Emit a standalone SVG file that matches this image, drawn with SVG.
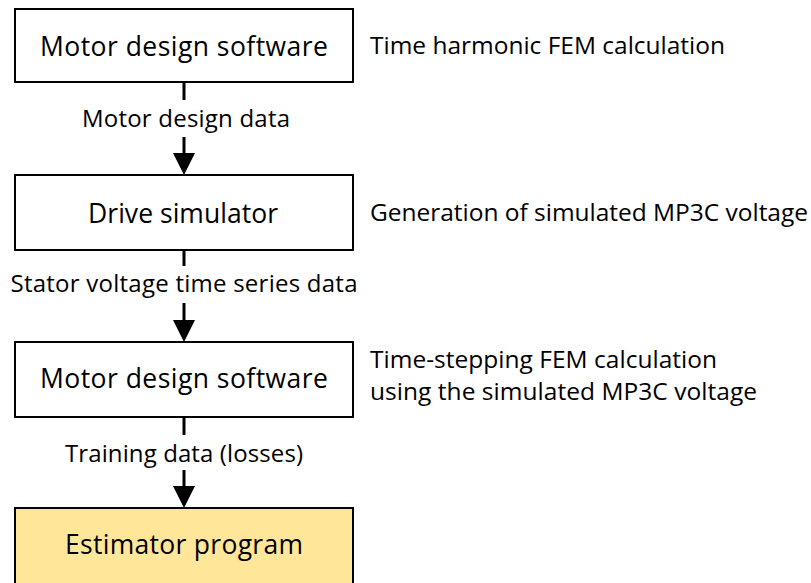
<svg xmlns="http://www.w3.org/2000/svg" width="811" height="583" viewBox="0 0 811 583">
  <defs>
    <style>
      .box { fill: #ffffff; stroke: #000000; stroke-width: 2; }
      .box.est { fill: #ffe699; }
      .t { font-family: "Open Sans", "Liberation Sans", sans-serif; fill: #000000; }
      .nt { font-size: 26.5px; text-anchor: middle; }
      .lb { font-size: 24px; text-anchor: middle; }
      .nt2 { font-size: 24.5px; }
      .edge { stroke: #000000; stroke-width: 3; fill: none; }
      .head { fill: #000000; }
    </style>
  </defs>
  <rect width="811" height="583" fill="#ffffff"/>

  <g id="node-motor-design-1">
    <rect class="box" x="15" y="9" width="338" height="73"/>
    <text class="t nt" x="184" y="56" textLength="288">Motor design software</text>
  </g>
  <g id="node-drive-simulator">
    <rect class="box" x="15" y="175" width="338" height="75"/>
    <text class="t nt" x="183" y="223" textLength="190">Drive simulator</text>
  </g>
  <g id="node-motor-design-2">
    <rect class="box" x="15" y="342" width="338" height="75"/>
    <text class="t nt" x="184" y="388" textLength="288">Motor design software</text>
  </g>
  <g id="node-estimator">
    <rect class="box est" x="15" y="508" width="338" height="80"/>
    <text class="t nt" x="184" y="554" textLength="238">Estimator program</text>
  </g>

  <g id="notes">
    <text class="t nt2" x="370" y="54" textLength="355">Time harmonic FEM calculation</text>
    <text class="t nt2" x="370" y="221" textLength="438">Generation of simulated MP3C voltage</text>
    <text class="t nt2" x="370" y="368" textLength="347">Time-stepping FEM calculation</text>
    <text class="t nt2" x="370" y="400" textLength="387">using the simulated MP3C voltage</text>
  </g>

  <g id="connectors">
    <line class="edge" x1="184" y1="82" x2="184" y2="100"/>
    <line class="edge" x1="184" y1="137" x2="184" y2="155"/>
    <polygon class="head" points="173,153 195,153 184,175"/>
    <text class="t lb" x="186" y="127" textLength="208">Motor design data</text>

    <line class="edge" x1="184" y1="250" x2="184" y2="266"/>
    <line class="edge" x1="184" y1="303" x2="184" y2="322"/>
    <polygon class="head" points="173,320 195,320 184,342"/>
    <text class="t lb" x="184" y="292" textLength="347">Stator voltage time series data</text>

    <line class="edge" x1="184" y1="417" x2="184" y2="435"/>
    <line class="edge" x1="184" y1="470" x2="184" y2="488"/>
    <polygon class="head" points="173,486 195,486 184,508"/>
    <text class="t lb" x="184" y="462" textLength="238">Training data (losses)</text>
  </g>
</svg>
